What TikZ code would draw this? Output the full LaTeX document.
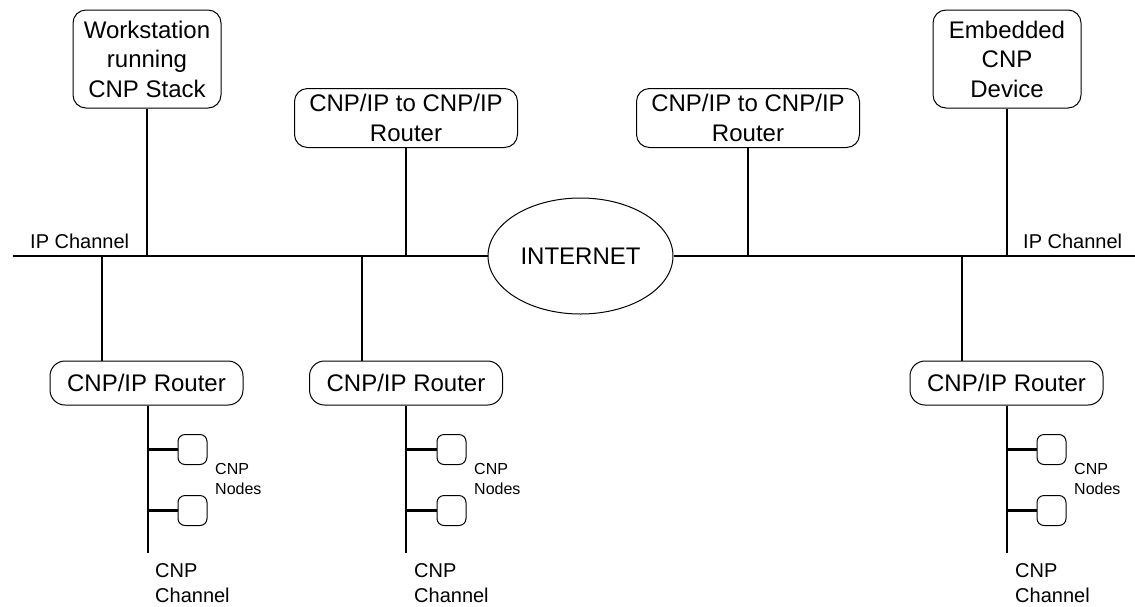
\documentclass[tikz,border=0pt]{standalone}
\usepackage{fontspec}
\setmainfont{Liberation Sans}
\usetikzlibrary{positioning,shapes.geometric}

\begin{document}
\begin{tikzpicture}[x=1pt, y=-1pt,
        bigbox/.style={rectangle, rounded corners=13pt, draw=black, line width=1pt, align=center, inner sep=0pt, font=\fontsize{24}{29.5}\selectfont},
        rtrbox/.style={rectangle, rounded corners=15pt, draw=black, line width=1pt, inner sep=0pt, minimum width=193pt, minimum height=44pt, font=\fontsize{24}{29}\selectfont},
        cnpnode/.style={rectangle, rounded corners=7pt, draw=black, line width=1pt, minimum width=29pt, minimum height=30pt, inner sep=0pt},
        wire/.style={line width=2.5pt},
        lbl/.style={inner sep=0pt, align=left, font=\fontsize{20}{25}\selectfont},
        small/.style={inner sep=0pt, align=left, font=\fontsize{16}{20}\selectfont}]
        \useasboundingbox (0,0) rectangle (1135,606);

        % IP side
        \node[bigbox, minimum width=148pt, minimum height=98pt] (ws) at (147,59) {Workstation\\running\\CNP Stack};
        \node[bigbox, minimum width=223pt, minimum height=59pt] (gw1) at (406,118) {CNP/IP to CNP/IP\\Router};
        \node[bigbox, minimum width=223pt, minimum height=59pt] (gw2) at (748,118) {CNP/IP to CNP/IP\\Router};
        \node[bigbox, minimum width=148pt, minimum height=98pt] (emb) at (1007,59) {Embedded\\CNP\\Device};
        \node[ellipse, draw=black, line width=1pt, minimum width=185pt, minimum height=116pt, inner sep=0pt, font=\fontsize{24}{29}\selectfont] (inet) at (580.5,256) {INTERNET};

        \coordinate (busL) at (13,256);
        \coordinate (busR) at (1135,256);
        \node[lbl, anchor=base west] (ipl) at (30,248) {IP Channel};
        \node[lbl, anchor=base west] (ipr) at (1023,248) {IP Channel};

        \draw[wire] (busL) -- (inet.west);
        \draw[wire] (inet.east) -- (busR);
        \draw[wire] (ws.south) -- (ws.south |- busL);
        \draw[wire] (gw1.south) -- (gw1.south |- busL);
        \draw[wire] (gw2.south) -- (gw2.south |- busL);
        \draw[wire] (emb.south) -- (emb.south |- busR);

        % CNP side
        \node[rtrbox] (rtr1) at (146.5,383) {CNP/IP Router};
        \node[rtrbox] (rtr2) at (406,383) {CNP/IP Router};
        \node[rtrbox] (rtr3) at (1006.5,383) {CNP/IP Router};

        \coordinate (tap1) at (102,256);
        \coordinate (tap2) at (362,256);
        \coordinate (tap3) at (962,256);
        \draw[wire] (tap1) -- (tap1 |- rtr1.north);
        \draw[wire] (tap2) -- (tap2 |- rtr2.north);
        \draw[wire] (tap3) -- (tap3 |- rtr3.north);

        \coordinate (ch1) at (148,553);
        \coordinate (ch2) at (406,553);
        \coordinate (ch3) at (1007,553);
        \draw[wire] (ch1 |- rtr1.south) -- (ch1);
        \draw[wire] (ch2 |- rtr2.south) -- (ch2);
        \draw[wire] (ch3 |- rtr3.south) -- (ch3);

        \node[cnpnode] (n1a) at (192.5,449.5) {};
        \node[cnpnode] (n1b) [below=30pt of n1a] {};
        \node[cnpnode] (n2a) at (451.5,449.5) {};
        \node[cnpnode] (n2b) [below=30pt of n2a] {};
        \node[cnpnode] (n3a) at (1051.5,449.5) {};
        \node[cnpnode] (n3b) [below=30pt of n3a] {};

        \draw[wire] (ch1 |- n1a.west) -- (n1a.west);
        \draw[wire] (ch1 |- n1b.west) -- (n1b.west);
        \draw[wire] (ch2 |- n2a.west) -- (n2a.west);
        \draw[wire] (ch2 |- n2b.west) -- (n2b.west);
        \draw[wire] (ch3 |- n3a.west) -- (n3a.west);
        \draw[wire] (ch3 |- n3b.west) -- (n3b.west);

        \node[small, anchor=north west] (nd1) at (215,463) {CNP\\Nodes};
        \node[small, anchor=north west] (nd2) at (474,463) {CNP\\Nodes};
        \node[small, anchor=north west] (nd3) at (1074,463) {CNP\\Nodes};

        \node[lbl, anchor=north west] (cc1) at (155,563) {CNP\\Channel};
        \node[lbl, anchor=north west] (cc2) at (414,563) {CNP\\Channel};
        \node[lbl, anchor=north west] (cc3) at (1015,563) {CNP\\Channel};
    \end{tikzpicture}
\end{document}
